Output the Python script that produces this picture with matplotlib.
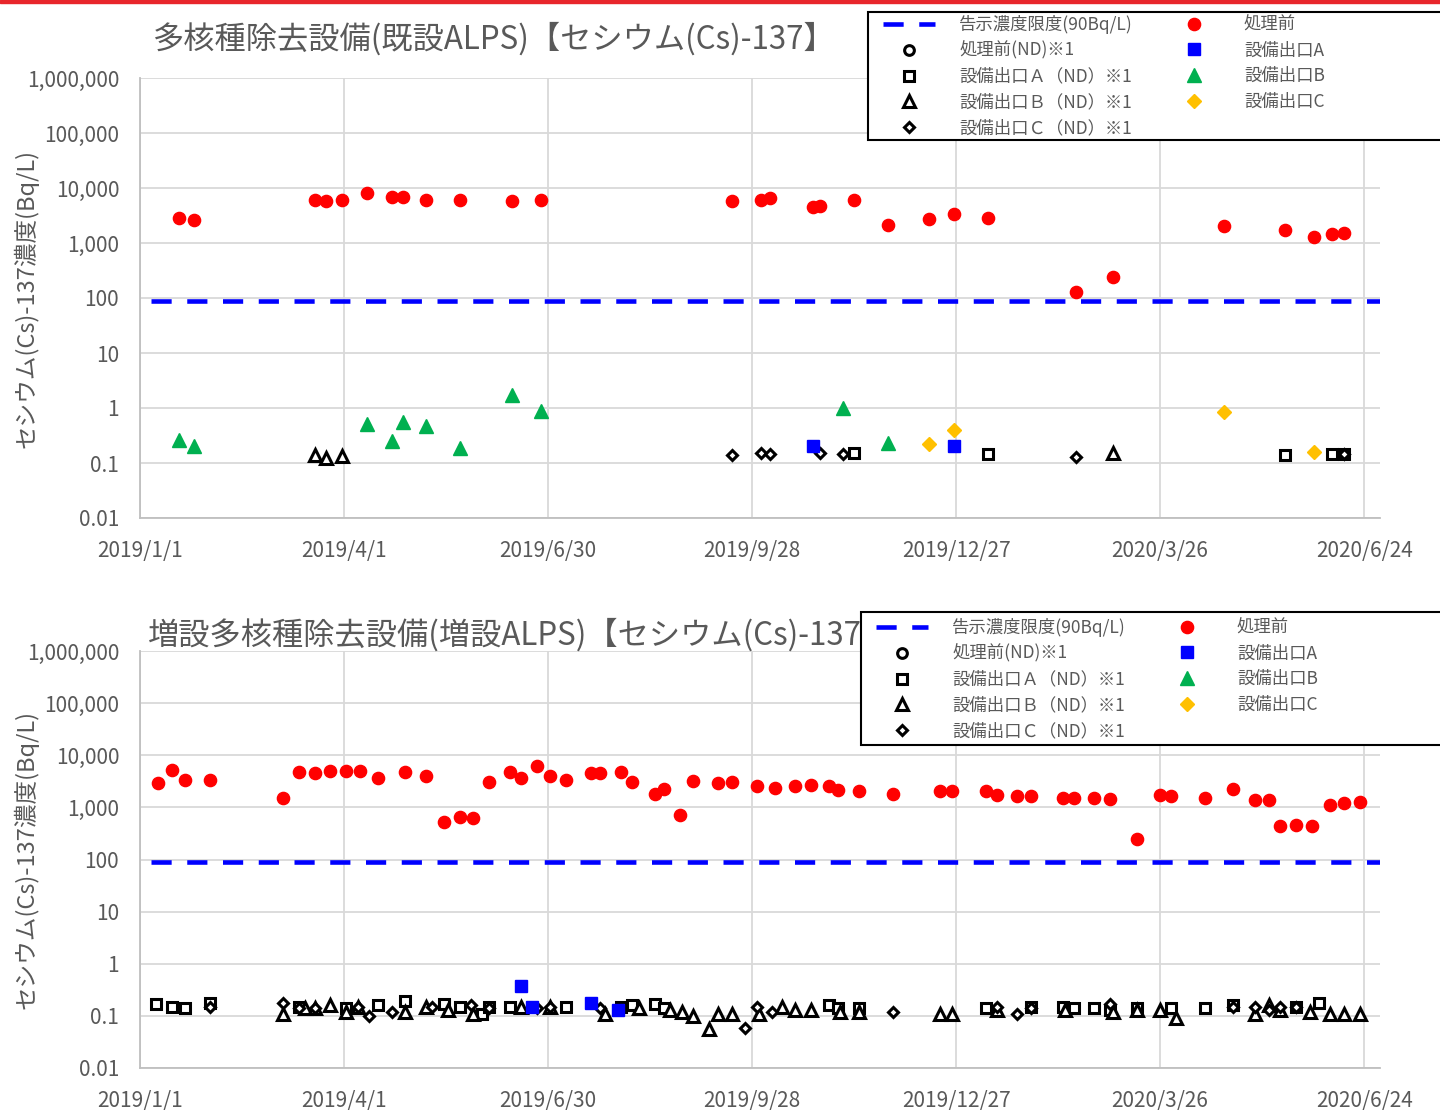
import matplotlib
matplotlib.use("Agg")
import matplotlib.pyplot as plt
from matplotlib.patches import Rectangle
from matplotlib.ticker import NullLocator
import pandas as pd

plt.rcParams['font.family'] = ['Noto Sans CJK JP', 'DejaVu Sans']

GRAY = "#595959"

# ---------------- data ----------------
titles = ["多核種除去設備(既設ALPS)【セシウム(Cs)-137】",
          "増設多核種除去設備(増設ALPS)【セシウム(Cs)-137】"]
ylabel = "セシウム(Cs)-137濃度(Bq/L)"

ytick_vals = [0.01, 0.1, 1, 10, 100, 1e3, 1e4, 1e5, 1e6]
ytick_labels = ["0.01", "0.1", "1", "10", "100", "1,000", "10,000", "100,000", "1,000,000"]
xtick_dates = ["2019/1/1", "2019/4/1", "2019/6/30", "2019/9/28", "2019/12/27", "2020/3/26", "2020/6/24"]
xtick_labels = ["2019/1/1", "2019/4/1", "2019/6/30", "2019/9/28", "2019/12/27", "2020/3/26", "2020/6/24"]

legend_labels = ["告示濃度限度(90Bq/L)", "処理前(ND)※1", "設備出口Ａ（ND）※1",
                 "設備出口Ｂ（ND）※1", "設備出口Ｃ（ND）※1",
                 "処理前", "設備出口A", "設備出口B", "設備出口C"]

limit_dates = ["2019/1/6", "2020/7/1"]
limit_vals = [90, 90]

# --- existing ALPS ---
pre_dates_1 = ["2019/1/18", "2019/1/25", "2019/3/19", "2019/3/24", "2019/3/31", "2019/4/11",
               "2019/4/22", "2019/4/27", "2019/5/7", "2019/5/22", "2019/6/14", "2019/6/27",
               "2019/9/19", "2019/10/2", "2019/10/6", "2019/10/25", "2019/10/28", "2019/11/12",
               "2019/11/27", "2019/12/15", "2019/12/26", "2020/1/10", "2020/2/18", "2020/3/5",
               "2020/4/23", "2020/5/20", "2020/6/2", "2020/6/10", "2020/6/15"]
pre_vals_1 = [2900, 2600, 6100, 5800, 6100, 8000, 6800, 6800, 6100, 6100, 5800, 6100,
              5800, 6100, 6500, 4500, 4700, 6100, 2100, 2700, 3400, 2900, 130, 240,
              2000, 1700, 1300, 1450, 1500]
pre_nd_dates_1 = []
pre_nd_vals_1 = []
a_dates_1 = ["2019/10/25", "2019/12/26"]
a_vals_1 = [0.20, 0.205]
a_nd_dates_1 = ["2019/11/12", "2020/1/10", "2020/5/20", "2020/6/10", "2020/6/15"]
a_nd_vals_1 = [0.15, 0.145, 0.138, 0.145, 0.145]
b_dates_1 = ["2019/1/18", "2019/1/25", "2019/4/11", "2019/4/22", "2019/4/27", "2019/5/7",
             "2019/5/22", "2019/6/14", "2019/6/27", "2019/11/7", "2019/11/27"]
b_vals_1 = [0.26, 0.20, 0.51, 0.25, 0.56, 0.48, 0.19, 1.7, 0.88, 0.99, 0.23]
b_nd_dates_1 = ["2019/3/19", "2019/3/24", "2019/3/31", "2020/3/5"]
b_nd_vals_1 = [0.14, 0.122, 0.134, 0.15]
c_dates_1 = ["2019/12/15", "2019/12/26", "2020/4/23", "2020/6/2"]
c_vals_1 = [0.22, 0.40, 0.83, 0.16]
c_nd_dates_1 = ["2019/9/19", "2019/10/2", "2019/10/6", "2019/10/28", "2019/11/7", "2020/2/18",
                "2020/6/15"]
c_nd_vals_1 = [0.138, 0.15, 0.145, 0.15, 0.145, 0.126, 0.145]

# --- additional ALPS ---
pre_dates_2 = ["2019/1/9", "2019/1/15", "2019/1/21", "2019/2/1", "2019/3/5", "2019/3/12",
               "2019/3/19", "2019/3/26", "2019/4/2", "2019/4/8", "2019/4/16", "2019/4/28",
               "2019/5/7", "2019/5/15", "2019/5/22", "2019/5/28", "2019/6/4", "2019/6/13",
               "2019/6/18", "2019/6/25", "2019/7/1", "2019/7/8", "2019/7/19", "2019/7/23",
               "2019/8/1", "2019/8/6", "2019/8/16", "2019/8/20", "2019/8/27", "2019/9/2",
               "2019/9/13", "2019/9/19", "2019/9/30", "2019/10/8", "2019/10/17", "2019/10/24",
               "2019/11/1", "2019/11/5", "2019/11/14", "2019/11/29", "2019/12/20", "2019/12/25",
               "2020/1/9", "2020/1/14", "2020/1/23", "2020/1/29", "2020/2/12", "2020/2/17",
               "2020/2/26", "2020/3/4", "2020/3/16", "2020/3/26", "2020/3/31", "2020/4/15",
               "2020/4/27", "2020/5/7", "2020/5/13", "2020/5/18", "2020/5/25", "2020/6/1",
               "2020/6/9", "2020/6/15", "2020/6/22"]
pre_vals_2 = [2900, 5300, 3400, 3400, 1500, 4800, 4600, 5000, 5000, 5000, 3600, 4800,
              4000, 520, 650, 620, 3100, 4800, 3600, 6300, 4000, 3400, 4600, 4600,
              4850, 3100, 1800, 2250, 700, 3200, 2900, 3100, 2550, 2400, 2550, 2700,
              2550, 2150, 2050, 1800, 2050, 2050, 2050, 1700, 1630, 1630, 1530, 1530,
              1530, 1450, 250, 1720, 1630, 1530, 2250, 1360, 1360, 440, 460, 440,
              1100, 1200, 1280]
pre_nd_dates_2 = []
pre_nd_vals_2 = []
a_dates_2 = ["2019/6/18", "2019/6/23", "2019/7/19", "2019/7/31"]
a_vals_2 = [0.38, 0.15, 0.18, 0.13]
a_nd_dates_2 = ["2019/1/8", "2019/1/15", "2019/1/21", "2019/2/1", "2019/3/12", "2019/4/2",
                "2019/4/16", "2019/4/28", "2019/5/15", "2019/5/22", "2019/6/1", "2019/6/4",
                "2019/6/13", "2019/7/8", "2019/8/1", "2019/8/6", "2019/8/16", "2019/8/20",
                "2019/11/1", "2019/11/5", "2019/11/14", "2020/1/9", "2020/1/29", "2020/2/12",
                "2020/2/17", "2020/2/26", "2020/3/4", "2020/3/16", "2020/3/31", "2020/4/15",
                "2020/4/27", "2020/5/25", "2020/6/4"]
a_nd_vals_2 = [0.17, 0.145, 0.14, 0.18, 0.15, 0.14, 0.16, 0.19, 0.17, 0.15, 0.11, 0.15,
               0.15, 0.15, 0.15, 0.16, 0.17, 0.14, 0.16, 0.14, 0.14, 0.14, 0.15, 0.15,
               0.14, 0.14, 0.13, 0.14, 0.14, 0.14, 0.16, 0.15, 0.18]
b_dates_2 = []
b_vals_2 = []
b_nd_dates_2 = ["2019/3/5", "2019/3/15", "2019/3/19", "2019/3/26", "2019/4/2", "2019/4/7",
                "2019/4/28", "2019/5/7", "2019/5/17", "2019/5/28", "2019/6/18", "2019/7/1",
                "2019/7/25", "2019/8/9", "2019/8/23", "2019/8/28", "2019/9/2", "2019/9/9",
                "2019/9/13", "2019/9/19", "2019/10/1", "2019/10/11", "2019/10/17", "2019/10/24",
                "2019/11/6", "2019/11/14", "2019/12/20", "2019/12/25", "2020/1/14", "2020/2/13",
                "2020/3/5", "2020/3/16", "2020/3/26", "2020/4/2", "2020/5/7", "2020/5/13",
                "2020/5/18", "2020/5/31", "2020/6/9", "2020/6/15", "2020/6/22"]
b_nd_vals_2 = [0.11, 0.14, 0.14, 0.16, 0.12, 0.15, 0.12, 0.15, 0.13, 0.11, 0.15, 0.15,
               0.11, 0.14, 0.13, 0.12, 0.10, 0.056, 0.11, 0.11, 0.11, 0.15, 0.13, 0.13,
               0.12, 0.12, 0.11, 0.11, 0.13, 0.13, 0.12, 0.13, 0.13, 0.09, 0.11, 0.16,
               0.13, 0.12, 0.11, 0.11, 0.11]
c_dates_2 = []
c_vals_2 = []
c_nd_dates_2 = ["2019/2/1", "2019/3/5", "2019/3/12", "2019/3/19", "2019/4/7", "2019/4/12",
                "2019/4/22", "2019/5/10", "2019/5/27", "2019/6/4", "2019/6/25", "2019/7/1",
                "2019/7/23", "2019/9/25", "2019/9/30", "2019/10/7", "2019/11/29", "2020/1/14",
                "2020/1/23", "2020/1/29", "2020/3/4", "2020/4/27", "2020/5/7", "2020/5/13",
                "2020/5/18", "2020/5/25"]
c_nd_vals_2 = [0.15, 0.175, 0.14, 0.14, 0.15, 0.10, 0.12, 0.15, 0.16, 0.14, 0.14, 0.15,
               0.14, 0.058, 0.15, 0.12, 0.12, 0.15, 0.11, 0.14, 0.17, 0.15, 0.15, 0.13,
               0.15, 0.15]

# ---------------- styles ----------------
nd_style = dict(linestyle="none", mfc="white", mec="black", mew=2.2)
styles = {
    "pre_nd": dict(marker="o", ms=7, **nd_style),
    "a_nd": dict(marker="s", ms=7.5, **nd_style),
    "b_nd": dict(marker="^", ms=8.5, **nd_style),
    "c_nd": dict(marker="D", ms=5.5, **nd_style),
    "pre": dict(marker="o", ms=8.8, linestyle="none", color="#ff0000"),
    "a": dict(marker="s", ms=8, linestyle="none", color="#0000ff"),
    "b": dict(marker="^", ms=10, linestyle="none", color="#00b050"),
    "c": dict(marker="D", ms=7, linestyle="none", color="#ffc000"),
}


def draw_panel(ax, series):
    handles = []
    h, = ax.plot(pd.to_datetime(limit_dates), limit_vals, color="#0000ff", lw=3.3,
                 dashes=(4.4, 3.4), dash_capstyle="butt")
    handles.append(h)
    for key, (dates, vals) in series.items():
        h, = ax.plot(pd.to_datetime(dates), vals, **styles[key])
        handles.append(h)

    ax.set_yscale("log")
    ax.set_ylim(0.01, 1e6)
    ax.set_yticks(ytick_vals)
    ax.set_yticklabels(ytick_labels)
    ax.yaxis.set_minor_locator(NullLocator())
    ax.set_xlim(pd.Timestamp("2019-01-01"), pd.Timestamp("2020-07-01"))
    ax.set_xticks(pd.to_datetime(xtick_dates))
    ax.set_xticklabels(xtick_labels)

    ax.grid(True, color="#d9d9d9", lw=1.3)
    ax.set_axisbelow(True)
    for s in ["top", "right"]:
        ax.spines[s].set_visible(False)
    for s in ["left", "bottom"]:
        ax.spines[s].set_color("#bfbfbf")
        ax.spines[s].set_linewidth(1.3)
    ax.tick_params(axis="both", length=0, labelsize=15, labelcolor=GRAY)
    ax.tick_params(axis="y", pad=15)
    ax.tick_params(axis="x", pad=15.5)
    ax.set_ylabel(ylabel, fontsize=17, color=GRAY)
    ax.yaxis.set_label_coords(-0.082, 0.5)
    return handles


fig = plt.figure(figsize=(14.4, 11.1), dpi=100)
W, H = 1440, 1110

# red strip at the top edge
fig.add_artist(Rectangle((0, 1 - 3 / H), 1, 3 / H, transform=fig.transFigure,
                         color="#e8262b", zorder=10))

ax1 = fig.add_axes([140 / W, 1 - 518 / H, 1240 / W, 440 / H])
ax2 = fig.add_axes([140 / W, 1 - 1068 / H, 1240 / W, 417 / H])

series1 = {"pre_nd": (pre_nd_dates_1, pre_nd_vals_1), "a_nd": (a_nd_dates_1, a_nd_vals_1),
           "b_nd": (b_nd_dates_1, b_nd_vals_1), "c_nd": (c_nd_dates_1, c_nd_vals_1),
           "pre": (pre_dates_1, pre_vals_1), "a": (a_dates_1, a_vals_1),
           "b": (b_dates_1, b_vals_1), "c": (c_dates_1, c_vals_1)}
series2 = {"pre_nd": (pre_nd_dates_2, pre_nd_vals_2), "a_nd": (a_nd_dates_2, a_nd_vals_2),
           "b_nd": (b_nd_dates_2, b_nd_vals_2), "c_nd": (c_nd_dates_2, c_nd_vals_2),
           "pre": (pre_dates_2, pre_vals_2), "a": (a_dates_2, a_vals_2),
           "b": (b_dates_2, b_vals_2), "c": (c_dates_2, c_vals_2)}

h1 = draw_panel(ax1, series1)
h2 = draw_panel(ax2, series2)

fig.text(153 / W, 1 - 39 / H, titles[0], fontsize=22.5, color=GRAY, va="center", ha="left")
fig.text(148 / W, 1 - 635 / H, titles[1], fontsize=22.5, color=GRAY, va="center", ha="left")

# legend frames (they run off the right edge of the figure)
for (x0, y0, y1) in [(868, 12, 140), (861, 612, 745)]:
    fig.add_artist(Rectangle((x0 / W, 1 - y1 / H), (W + 10 - x0) / W, (y1 - y0) / H,
                             transform=fig.transFigure, facecolor="white",
                             edgecolor="black", lw=1.5, zorder=5))

for handles, (lx, ly) in [(h1, (874, 6)), (h2, (867, 609))]:
    leg = fig.legend(handles, legend_labels, ncol=2, loc="upper left",
                     bbox_to_anchor=(lx / W, 1 - ly / H), frameon=False, fontsize=12.5,
                     handlelength=3.0, handletextpad=1.4, columnspacing=2.0,
                     labelspacing=0.45, borderpad=0, labelcolor=GRAY)
    leg.set_zorder(6)

fig.savefig("out.png", dpi=100)
